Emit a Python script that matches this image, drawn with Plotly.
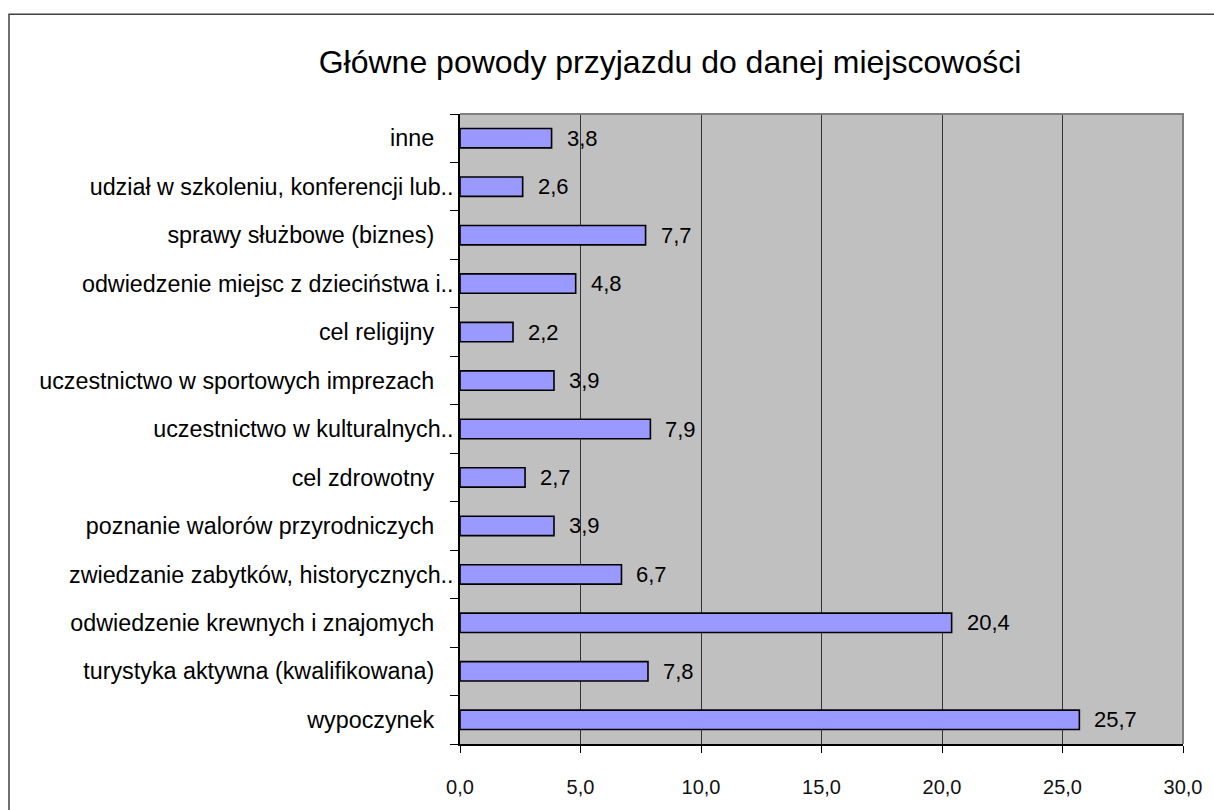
import plotly.graph_objects as go

# Reasons for visiting, listed bottom-to-top as drawn on the category axis
categories = [
    "wypoczynek   ",
    "turystyka aktywna (kwalifikowana)   ",
    "odwiedzenie krewnych i znajomych   ",
    "zwiedzanie zabytków, historycznych..",
    "poznanie walorów przyrodniczych   ",
    "cel zdrowotny   ",
    "uczestnictwo w kulturalnych..",
    "uczestnictwo w sportowych imprezach   ",
    "cel religijny   ",
    "odwiedzenie miejsc z dzieciństwa i..",
    "sprawy służbowe (biznes)   ",
    "udział w szkoleniu, konferencji lub..",
    "inne   ",
]
values = [25.7, 7.8, 20.4, 6.7, 3.9, 2.7, 7.9, 3.9, 2.2, 4.8, 7.7, 2.6, 3.8]
x_ticks = [0, 5, 10, 15, 20, 25, 30]

FONT = "Liberation Sans, Arial, sans-serif"

fig = go.Figure(
    go.Bar(
        x=values,
        y=categories,
        orientation="h",
        marker=dict(color="#9999FF", line=dict(color="#000000", width=1.6)),
        width=0.4,
        hoverinfo="x+y",
    )
)

# Value labels to the right of each bar
for cat, val in zip(categories, values):
    fig.add_annotation(
        x=val, y=cat, xref="x", yref="y",
        text=f"{val:.1f}".replace(".", ","),
        showarrow=False, xanchor="left", yanchor="middle", xshift=13,
        font=dict(family=FONT, size=22, color="#000000"),
    )

L, R, T, B = 460, 1183, 114, 752
W, H = 1214, 810
pw, ph = R - L, B - T

# Outer chart frame
fig.add_shape(
    type="rect", xref="paper", yref="paper",
    x0=(9 - L) / pw, x1=(W + 20 - L) / pw,
    y0=(B - (H + 20)) / ph, y1=(B - 13) / ph,
    line=dict(color="#404040", width=1.5), fillcolor="rgba(0,0,0,0)", layer="below",
)
# Grey top/right edge of the plot area
fig.add_shape(
    type="path", xref="paper", yref="paper",
    path="M 0,1 L 1,1 L 1,0",
    line=dict(color="#808080", width=2), layer="above",
)

fig.update_layout(
    width=W, height=H,
    margin=dict(l=L, r=W - R, t=T, b=H - B, pad=0),
    paper_bgcolor="#FFFFFF",
    plot_bgcolor="#C0C0C0",
    separators=", ",
    showlegend=False,
    font=dict(family=FONT, color="#000000"),
    title=dict(
        text="Główne powody przyjazdu do danej miejscowości",
        x=(670 - L) / pw, xref="paper", xanchor="center",
        y=1 - 62 / H, yref="container", yanchor="middle",
        font=dict(family=FONT, size=32, color="#000000"),
    ),
    xaxis=dict(
        range=[0, 30],
        tickvals=x_ticks,
        tickformat=".1f",
        showgrid=True, gridcolor="#333333", gridwidth=1,
        zeroline=False,
        showline=True, linecolor="#000000", linewidth=1.5,
        ticks="outside", ticklen=7, tickcolor="#000000", tickwidth=1,
        tickfont=dict(family=FONT, size=20, color="#111111"),
        ticklabelstandoff=17,
        fixedrange=True,
    ),
    yaxis=dict(
        type="category",
        categoryorder="array", categoryarray=categories,
        range=[-0.5, len(categories) - 0.5],
        showgrid=False, zeroline=False,
        showline=True, linecolor="#000000", linewidth=1.5,
        ticks="outside", ticklen=8, tickcolor="#000000", tickwidth=1,
        tickson="boundaries",
        tickfont=dict(family=FONT, size=23.3, color="#000000"),
        ticklabelstandoff=0,
        fixedrange=True,
    ),
    bargap=0.6,
)

fig.write_html("out.html")
